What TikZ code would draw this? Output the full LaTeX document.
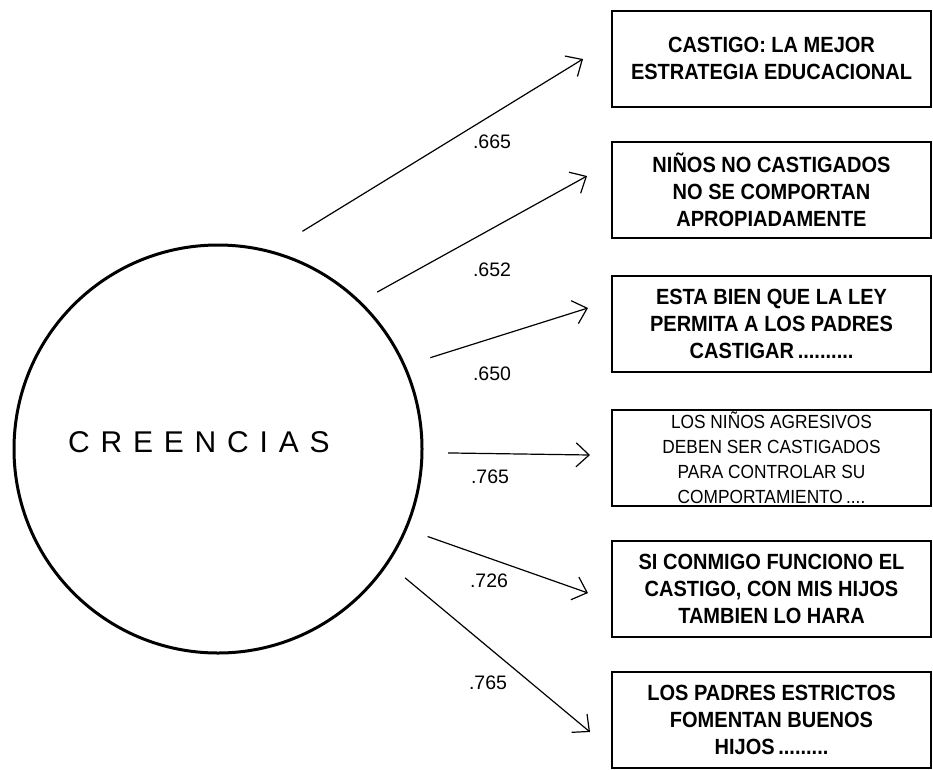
\documentclass[tikz,border=0pt]{standalone}
\usepackage{fontspec}
\setmainfont{Liberation Sans}
\newfontfamily\widefont[LetterSpace=36]{Liberation Sans}
\newfontfamily\boxfont[FakeStretch=0.91]{Liberation Sans}
\usetikzlibrary{arrows.meta}
\tikzset{
  item/.style={draw, line width=2pt, minimum width=319pt, minimum height=96pt,
    align=center, inner sep=0pt, font=\boxfont\bfseries\fontsize{22}{27}\selectfont},
  load/.style={inner sep=0pt, font=\fontsize{19.5}{22}\selectfont},
  arr/.style={line width=1.2pt, -{Straight Barb[length=13pt,width=24pt]}}
}

\begin{document}
\begin{tikzpicture}[x=1pt,y=-1pt]
\useasboundingbox (0,0) rectangle (933,769);

% factor
\node[circle, draw, line width=3pt, minimum size=408pt, inner sep=0pt] (cre) at (218,449) {};
\node[anchor=base west, inner sep=0pt, font=\widefont\fontsize{30}{30}\selectfont] (crelab) at (68,452) {CREENCIAS};

% items
\node[item] (b1) at (771.5,58.5) {CASTIGO: LA MEJOR\\ESTRATEGIA EDUCACIONAL};
\node[item] (b2) at (771.5,190) {NIÑOS NO CASTIGADOS\\NO SE COMPORTAN\\APROPIADAMENTE};
\node[item] (b3) at (771.5,323.5) {ESTA BIEN QUE LA LEY\\PERMITA A LOS PADRES\\CASTIGAR\,..........};
\node[item, font=\boxfont\fontsize{19}{25}\selectfont] (b4) at (771.5,457.5) {LOS NIÑOS AGRESIVOS\\DEBEN SER CASTIGADOS\\PARA CONTROLAR SU\\COMPORTAMIENTO\,....};
\node[item] (b5) at (771.5,588.5) {SI CONMIGO FUNCIONO EL\\CASTIGO, CON MIS HIJOS\\TAMBIEN LO HARA};
\node[item] (b6) at (771.5,720) {LOS PADRES ESTRICTOS\\FOMENTAN BUENOS\\HIJOS\,.........};

% arrow ends
\coordinate (t1) at (583,59);
\coordinate (t2) at (587,176);
\coordinate (t3) at (588,308);
\coordinate (t4) at (590,455);
\coordinate (t5) at (588,593);
\coordinate (t6) at (590,732);

\draw[arr, shorten <=36.7pt] (cre.75.4) -- (t1);
\draw[arr, shorten <=18.8pt] (cre.46.5) -- (t2);
\draw[arr, shorten <=25.8pt] (cre.24.2) -- (t3);
\draw[arr, shorten <=24.6pt] (cre.-1.7) -- (t4);
\draw[arr, shorten <=21.7pt] (cre.-23.5) -- (t5);
\draw[arr, shorten <=21.8pt] (cre.-34.1) -- (t6);

% loadings
\node[load] (w1) at (492,142) {.665};
\node[load] (w2) at (492,270) {.652};
\node[load] (w3) at (492,374) {.650};
\node[load] (w4) at (490,477) {.765};
\node[load] (w5) at (489,581) {.726};
\node[load] (w6) at (488,683) {.765};
\end{tikzpicture}
\end{document}
